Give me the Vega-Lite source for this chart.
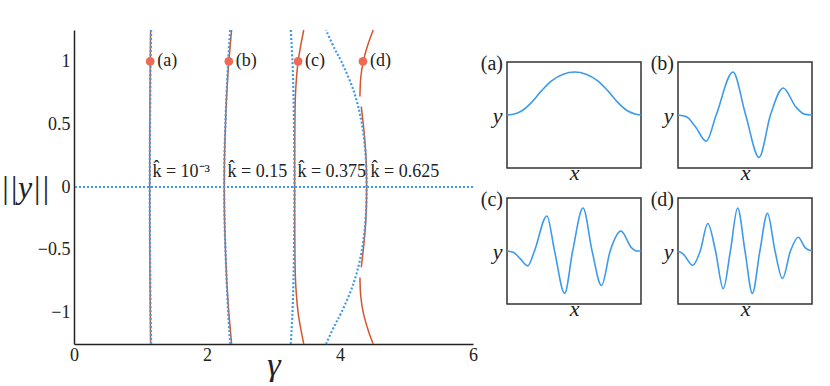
{
  "$schema": "https://vega.github.io/schema/vega-lite/v6.json",
  "padding": {"left": 0, "top": 25, "right": 0, "bottom": 0},
  "background": "white",
  "datasets": {
    "orange": [
      {"s": "a", "norm": -1.25, "gamma": 1.152}, {"s": "a", "norm": -1, "gamma": 1.147}, {"s": "a", "norm": -0.5, "gamma": 1.141}, {"s": "a", "norm": 0, "gamma": 1.139}, {"s": "a", "norm": 0.5, "gamma": 1.141}, {"s": "a", "norm": 1, "gamma": 1.147}, {"s": "a", "norm": 1.25, "gamma": 1.152},
      {"s": "b", "norm": -1.25, "gamma": 2.37}, {"s": "b", "norm": -1.1, "gamma": 2.345}, {"s": "b", "norm": -1, "gamma": 2.328}, {"s": "b", "norm": -0.75, "gamma": 2.298}, {"s": "b", "norm": -0.5, "gamma": 2.278}, {"s": "b", "norm": -0.25, "gamma": 2.264}, {"s": "b", "norm": 0, "gamma": 2.26}, {"s": "b", "norm": 0.25, "gamma": 2.264}, {"s": "b", "norm": 0.5, "gamma": 2.278}, {"s": "b", "norm": 0.75, "gamma": 2.298}, {"s": "b", "norm": 1, "gamma": 2.328}, {"s": "b", "norm": 1.1, "gamma": 2.345}, {"s": "b", "norm": 1.25, "gamma": 2.37},
      {"s": "c", "norm": -1.25, "gamma": 3.455}, {"s": "c", "norm": -1.1, "gamma": 3.4}, {"s": "c", "norm": -1, "gamma": 3.37}, {"s": "c", "norm": -0.85, "gamma": 3.343}, {"s": "c", "norm": -0.7, "gamma": 3.328}, {"s": "c", "norm": -0.35, "gamma": 3.32}, {"s": "c", "norm": 0, "gamma": 3.318}, {"s": "c", "norm": 0.35, "gamma": 3.32}, {"s": "c", "norm": 0.7, "gamma": 3.328}, {"s": "c", "norm": 0.85, "gamma": 3.343}, {"s": "c", "norm": 1, "gamma": 3.37}, {"s": "c", "norm": 1.1, "gamma": 3.4}, {"s": "c", "norm": 1.25, "gamma": 3.455},
      {"s": "d1", "norm": 0.72, "gamma": 4.3}, {"s": "d1", "norm": 0.87, "gamma": 4.312}, {"s": "d1", "norm": 1, "gamma": 4.35}, {"s": "d1", "norm": 1.15, "gamma": 4.43}, {"s": "d1", "norm": 1.25, "gamma": 4.5},
      {"s": "d2", "norm": -0.64, "gamma": 4.32}, {"s": "d2", "norm": -0.45, "gamma": 4.36}, {"s": "d2", "norm": -0.25, "gamma": 4.39}, {"s": "d2", "norm": 0, "gamma": 4.4}, {"s": "d2", "norm": 0.25, "gamma": 4.39}, {"s": "d2", "norm": 0.45, "gamma": 4.36}, {"s": "d2", "norm": 0.64, "gamma": 4.32},
      {"s": "d3", "norm": -1.25, "gamma": 4.5}, {"s": "d3", "norm": -1.15, "gamma": 4.43}, {"s": "d3", "norm": -1, "gamma": 4.35}, {"s": "d3", "norm": -0.87, "gamma": 4.312}, {"s": "d3", "norm": -0.72, "gamma": 4.3}
    ],
    "blue": [
      {"s": "a", "norm": -1.25, "gamma": 1.16}, {"s": "a", "norm": -1, "gamma": 1.152}, {"s": "a", "norm": -0.5, "gamma": 1.143}, {"s": "a", "norm": 0, "gamma": 1.139}, {"s": "a", "norm": 0.5, "gamma": 1.143}, {"s": "a", "norm": 1, "gamma": 1.152}, {"s": "a", "norm": 1.25, "gamma": 1.16},
      {"s": "b", "norm": -1.25, "gamma": 2.348}, {"s": "b", "norm": -1, "gamma": 2.318}, {"s": "b", "norm": -0.75, "gamma": 2.295}, {"s": "b", "norm": -0.5, "gamma": 2.277}, {"s": "b", "norm": -0.25, "gamma": 2.263}, {"s": "b", "norm": 0, "gamma": 2.258}, {"s": "b", "norm": 0.25, "gamma": 2.263}, {"s": "b", "norm": 0.5, "gamma": 2.277}, {"s": "b", "norm": 0.75, "gamma": 2.295}, {"s": "b", "norm": 1, "gamma": 2.318}, {"s": "b", "norm": 1.25, "gamma": 2.348},
      {"s": "c", "norm": -1.25, "gamma": 3.26}, {"s": "c", "norm": -1, "gamma": 3.285}, {"s": "c", "norm": -0.75, "gamma": 3.3}, {"s": "c", "norm": -0.4, "gamma": 3.31}, {"s": "c", "norm": 0, "gamma": 3.315}, {"s": "c", "norm": 0.4, "gamma": 3.31}, {"s": "c", "norm": 0.75, "gamma": 3.3}, {"s": "c", "norm": 1, "gamma": 3.285}, {"s": "c", "norm": 1.25, "gamma": 3.26},
      {"s": "d", "norm": -1.25, "gamma": 3.79}, {"s": "d", "norm": -1.1, "gamma": 3.92}, {"s": "d", "norm": -1, "gamma": 4.02}, {"s": "d", "norm": -0.75, "gamma": 4.215}, {"s": "d", "norm": -0.5, "gamma": 4.33}, {"s": "d", "norm": -0.25, "gamma": 4.385}, {"s": "d", "norm": 0, "gamma": 4.4}, {"s": "d", "norm": 0.25, "gamma": 4.385}, {"s": "d", "norm": 0.5, "gamma": 4.33}, {"s": "d", "norm": 0.75, "gamma": 4.215}, {"s": "d", "norm": 1, "gamma": 4.02}, {"s": "d", "norm": 1.1, "gamma": 3.92}, {"s": "d", "norm": 1.25, "gamma": 3.79}
    ],
    "dots": [
      {"gamma": 1.145, "norm": 1, "label": "(a)"},
      {"gamma": 2.328, "norm": 1, "label": "(b)"},
      {"gamma": 3.37, "norm": 1, "label": "(c)"},
      {"gamma": 4.345, "norm": 1, "label": "(d)"}
    ],
    "klabels": [
      {"gamma": 1.18, "norm": 0.12, "label": "k̂ = 10⁻³"},
      {"gamma": 2.31, "norm": 0.12, "label": "k̂ = 0.15"},
      {"gamma": 3.36, "norm": 0.12, "label": "k̂ = 0.375"},
      {"gamma": 4.46, "norm": 0.12, "label": "k̂ = 0.625"}
    ],
    "pa": [
      {"x": 0, "v": 0}, {"x": 0.055, "v": 0.02}, {"x": 0.105, "v": 0.07}, {"x": 0.18, "v": 0.23}, {"x": 0.255, "v": 0.45}, {"x": 0.33, "v": 0.64}, {"x": 0.42, "v": 0.77}, {"x": 0.505, "v": 0.81}, {"x": 0.59, "v": 0.77}, {"x": 0.68, "v": 0.64}, {"x": 0.755, "v": 0.45}, {"x": 0.83, "v": 0.23}, {"x": 0.905, "v": 0.07}, {"x": 0.955, "v": 0.02}, {"x": 1, "v": 0}
    ],
    "pb": [
      {"x": 0, "v": 0}, {"x": 0.06, "v": -0.03}, {"x": 0.13, "v": -0.22}, {"x": 0.21, "v": -0.495}, {"x": 0.285, "v": 0}, {"x": 0.41, "v": 0.81}, {"x": 0.505, "v": 0}, {"x": 0.605, "v": -0.8}, {"x": 0.69, "v": 0}, {"x": 0.785, "v": 0.51}, {"x": 0.88, "v": 0.15}, {"x": 0.94, "v": 0.02}, {"x": 1, "v": 0}
    ],
    "pc": [
      {"x": 0, "v": 0}, {"x": 0.05, "v": -0.03}, {"x": 0.1, "v": -0.15}, {"x": 0.155, "v": -0.28}, {"x": 0.205, "v": 0}, {"x": 0.2975, "v": 0.66}, {"x": 0.355, "v": 0}, {"x": 0.43, "v": -0.8}, {"x": 0.49, "v": 0}, {"x": 0.5675, "v": 0.81}, {"x": 0.635, "v": 0}, {"x": 0.705, "v": -0.65}, {"x": 0.77, "v": 0}, {"x": 0.85, "v": 0.375}, {"x": 0.93, "v": 0.06}, {"x": 0.97, "v": 0.0}, {"x": 1, "v": 0}
    ],
    "pd": [
      {"x": 0, "v": 0}, {"x": 0.04, "v": -0.06}, {"x": 0.11, "v": -0.27}, {"x": 0.166, "v": 0}, {"x": 0.2225, "v": 0.52}, {"x": 0.28, "v": 0}, {"x": 0.3375, "v": -0.71}, {"x": 0.391, "v": 0}, {"x": 0.445, "v": 0.81}, {"x": 0.5, "v": 0}, {"x": 0.555, "v": -0.8}, {"x": 0.611, "v": 0}, {"x": 0.6675, "v": 0.71}, {"x": 0.724, "v": 0}, {"x": 0.78, "v": -0.52}, {"x": 0.839, "v": 0}, {"x": 0.8975, "v": 0.26}, {"x": 0.95, "v": 0.06}, {"x": 1, "v": 0}
    ]
  },
  "bounds": "flush",
  "spacing": 34,
  "hconcat": [
    {
      "width": 399,
      "height": 314,
      "encoding": {
        "x": {"field": "gamma", "type": "quantitative", "scale": {"domain": [0, 6], "nice": false, "zero": false},
          "axis": {"title": "γ", "values": [0, 2, 4, 6], "grid": false, "ticks": false, "labelFlush": false, "labelPadding": 2, "labelFontSize": 18, "domainColor": "#222", "domainWidth": 1.5, "titleFontSize": 34, "titleFontStyle": "italic", "titlePadding": -16}},
        "y": {"field": "norm", "type": "quantitative", "scale": {"domain": [-1.25, 1.25], "nice": false, "zero": false},
          "axis": {"title": "||y||", "values": [-1, -0.5, 0, 0.5, 1], "format": "~g", "grid": false, "ticks": false, "labelPadding": 4, "labelFontSize": 18, "domainColor": "#222", "domainWidth": 1.5, "titleAngle": 0, "titleX": -74, "titleY": 157, "titleAlign": "left", "titleBaseline": "middle", "titleFontSize": 32, "titleFontStyle": "italic"}}
      },
      "layer": [
        {"data": {"name": "orange"}, "mark": {"type": "line", "interpolate": "catmull-rom", "color": "#d4562e", "strokeWidth": 1.5},
          "encoding": {"detail": {"field": "s"}, "order": {"field": "norm", "type": "quantitative"}}},
        {"data": {"name": "blue"}, "mark": {"type": "line", "interpolate": "catmull-rom", "color": "#3d9be9", "strokeWidth": 2.2, "strokeDash": [2, 2]},
          "encoding": {"detail": {"field": "s"}, "order": {"field": "norm", "type": "quantitative"}}},
        {"data": {"values": [{"norm": 0}]}, "mark": {"type": "rule", "color": "#3d9be9", "strokeWidth": 2.2, "strokeDash": [2, 2]},
          "encoding": {"x": null}},
        {"data": {"name": "dots"}, "mark": {"type": "circle", "size": 75, "color": "#ee6a55", "opacity": 1}},
        {"data": {"name": "dots"}, "mark": {"type": "text", "align": "left", "baseline": "middle", "dx": 7, "fontSize": 18, "color": "#222"},
          "encoding": {"text": {"field": "label"}}},
        {"data": {"name": "klabels"}, "mark": {"type": "text", "align": "left", "baseline": "middle", "fontSize": 18, "color": "#222"},
          "encoding": {"text": {"field": "label"}}}
      ]
    },
    {
      "columns": 2,
      "bounds": "flush",
      "spacing": {"row": 30, "column": 37},
      "concat": [
        {"width": 134, "height": 2, "data": {"values": []}, "mark": "point"},
        {"width": 134, "height": 2, "data": {"values": []}, "mark": "point"},
        {
          "width": 134, "height": 106,
          "view": {"stroke": "#333", "strokeWidth": 1.5},
          "title": {"text": "(a)", "anchor": "start", "frame": "group", "orient": "top", "align": "right", "baseline": "top", "dx": -4, "dy": 12, "offset": 0, "fontSize": 20, "fontWeight": "normal", "color": "#222"},
          "data": {"name": "pa"},
          "mark": {"type": "line", "interpolate": "monotone", "color": "#3d9be9", "strokeWidth": 1.6},
          "encoding": {
            "x": {"field": "x", "type": "quantitative", "scale": {"domain": [0, 1], "nice": false}, "axis": {"title": "x", "labels": false, "ticks": false, "domain": false, "grid": false, "titleFontStyle": "italic", "titleFontSize": 22, "titlePadding": -6}},
            "y": {"field": "v", "type": "quantitative", "scale": {"domain": [-1, 1], "nice": false}, "axis": {"title": "y", "labels": false, "ticks": false, "domain": false, "grid": false, "titleFontStyle": "italic", "titleFontSize": 22, "titleAngle": 0, "titleX": -5, "titleY": 53, "titleAlign": "right", "titleBaseline": "middle"}}
          }
        },
        {
          "width": 134, "height": 106,
          "view": {"stroke": "#333", "strokeWidth": 1.5},
          "title": {"text": "(b)", "anchor": "start", "frame": "group", "orient": "top", "align": "right", "baseline": "top", "dx": -4, "dy": 12, "offset": 0, "fontSize": 20, "fontWeight": "normal", "color": "#222"},
          "data": {"name": "pb"},
          "mark": {"type": "line", "interpolate": "monotone", "color": "#3d9be9", "strokeWidth": 1.6},
          "encoding": {
            "x": {"field": "x", "type": "quantitative", "scale": {"domain": [0, 1], "nice": false}, "axis": {"title": "x", "labels": false, "ticks": false, "domain": false, "grid": false, "titleFontStyle": "italic", "titleFontSize": 22, "titlePadding": -6}},
            "y": {"field": "v", "type": "quantitative", "scale": {"domain": [-1, 1], "nice": false}, "axis": {"title": "y", "labels": false, "ticks": false, "domain": false, "grid": false, "titleFontStyle": "italic", "titleFontSize": 22, "titleAngle": 0, "titleX": -5, "titleY": 53, "titleAlign": "right", "titleBaseline": "middle"}}
          }
        },
        {
          "width": 134, "height": 106,
          "view": {"stroke": "#333", "strokeWidth": 1.5},
          "title": {"text": "(c)", "anchor": "start", "frame": "group", "orient": "top", "align": "right", "baseline": "top", "dx": -4, "dy": 12, "offset": 0, "fontSize": 20, "fontWeight": "normal", "color": "#222"},
          "data": {"name": "pc"},
          "mark": {"type": "line", "interpolate": "monotone", "color": "#3d9be9", "strokeWidth": 1.6},
          "encoding": {
            "x": {"field": "x", "type": "quantitative", "scale": {"domain": [0, 1], "nice": false}, "axis": {"title": "x", "labels": false, "ticks": false, "domain": false, "grid": false, "titleFontStyle": "italic", "titleFontSize": 22, "titlePadding": -6}},
            "y": {"field": "v", "type": "quantitative", "scale": {"domain": [-1, 1], "nice": false}, "axis": {"title": "y", "labels": false, "ticks": false, "domain": false, "grid": false, "titleFontStyle": "italic", "titleFontSize": 22, "titleAngle": 0, "titleX": -5, "titleY": 53, "titleAlign": "right", "titleBaseline": "middle"}}
          }
        },
        {
          "width": 134, "height": 106,
          "view": {"stroke": "#333", "strokeWidth": 1.5},
          "title": {"text": "(d)", "anchor": "start", "frame": "group", "orient": "top", "align": "right", "baseline": "top", "dx": -4, "dy": 12, "offset": 0, "fontSize": 20, "fontWeight": "normal", "color": "#222"},
          "data": {"name": "pd"},
          "mark": {"type": "line", "interpolate": "monotone", "color": "#3d9be9", "strokeWidth": 1.6},
          "encoding": {
            "x": {"field": "x", "type": "quantitative", "scale": {"domain": [0, 1], "nice": false}, "axis": {"title": "x", "labels": false, "ticks": false, "domain": false, "grid": false, "titleFontStyle": "italic", "titleFontSize": 22, "titlePadding": -6}},
            "y": {"field": "v", "type": "quantitative", "scale": {"domain": [-1, 1], "nice": false}, "axis": {"title": "y", "labels": false, "ticks": false, "domain": false, "grid": false, "titleFontStyle": "italic", "titleFontSize": 22, "titleAngle": 0, "titleX": -5, "titleY": 53, "titleAlign": "right", "titleBaseline": "middle"}}
          }
        }
      ]
    }
  ],
  "config": {
    "font": "Liberation Serif",
    "view": {"stroke": null},
    "axis": {"labelFont": "Liberation Serif", "titleFont": "Liberation Serif", "labelColor": "#222", "titleColor": "#222", "titleFontWeight": "normal"},
    "title": {"font": "Liberation Serif"},
    "text": {"font": "Liberation Serif"}
  }
}
